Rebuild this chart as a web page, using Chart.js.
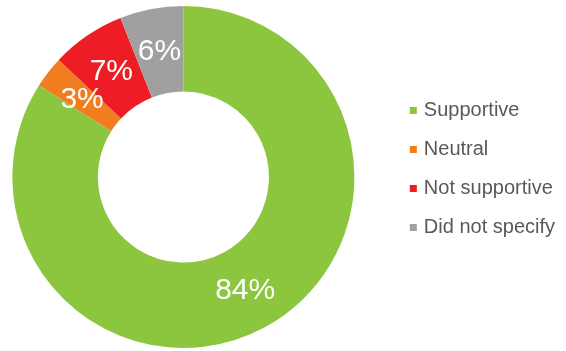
<!DOCTYPE html>
<html>
<head>
<meta charset="utf-8">
<script src="https://cdn.jsdelivr.net/npm/chart.js@4.4.1/dist/chart.umd.min.js"></script>
<style>
  html, body { margin: 0; padding: 0; background: #ffffff; }
  #wrap { position: relative; width: 566px; height: 351px; }
</style>
</head>
<body>
<div id="wrap"><canvas id="chart"></canvas></div>
<script>
// Survey response breakdown
const categories = ['Supportive', 'Neutral', 'Not supportive', 'Did not specify'];
const shares = [84, 3, 7, 6];
const sliceColors = ['#8cc63f', '#f07d1e', '#ee1c24', '#a0a0a0'];

const FONT = '"Liberation Sans", Arial, sans-serif';

// Percentage text in the middle of each ring segment
const sliceLabels = {
  id: 'sliceLabels',
  afterDatasetsDraw(chart) {
    const ctx = chart.ctx;
    const meta = chart.getDatasetMeta(0);
    ctx.save();
    ctx.font = '30px ' + FONT;
    ctx.fillStyle = '#ffffff';
    ctx.textAlign = 'center';
    ctx.textBaseline = 'middle';
    meta.data.forEach((arc, i) => {
      const p = arc.tooltipPosition();
      ctx.fillText(shares[i] + '%', p.x, p.y + 1);
    });
    ctx.restore();
  }
};

// Move the legend block back to the right after layout,
// leaving the ring centred in the narrower chart area
const legendShift = {
  id: 'legendShift',
  afterLayout(chart, args, opts) {
    const lg = chart.legend;
    if (!lg) return;
    lg.left += opts.dx; lg.right += opts.dx;
    lg.top += opts.dy; lg.bottom += opts.dy;
  }
};

new Chart(document.getElementById('chart'), {
  type: 'doughnut',
  data: {
    labels: categories,
    datasets: [{
      data: shares,
      backgroundColor: sliceColors,
      borderWidth: 0,
      radius: 171,
      cutout: '50%'
    }]
  },
  options: {
    responsive: true,
    maintainAspectRatio: false,
    animation: false,
    layout: { padding: { left: 0, top: 3, right: 28, bottom: 0 } },
    plugins: {
      tooltip: { enabled: false },
      legend: {
        position: 'right',
        align: 'center',
        labels: {
          usePointStyle: true,
          pointStyle: 'rect',
          boxWidth: 1,
          boxHeight: 7,
          padding: 19,
          color: '#595959',
          font: { family: FONT, size: 20 }
        }
      },
      legendShift: { dx: 27, dy: -8 }
    }
  },
  plugins: [sliceLabels, legendShift]
});
</script>
</body>
</html>
